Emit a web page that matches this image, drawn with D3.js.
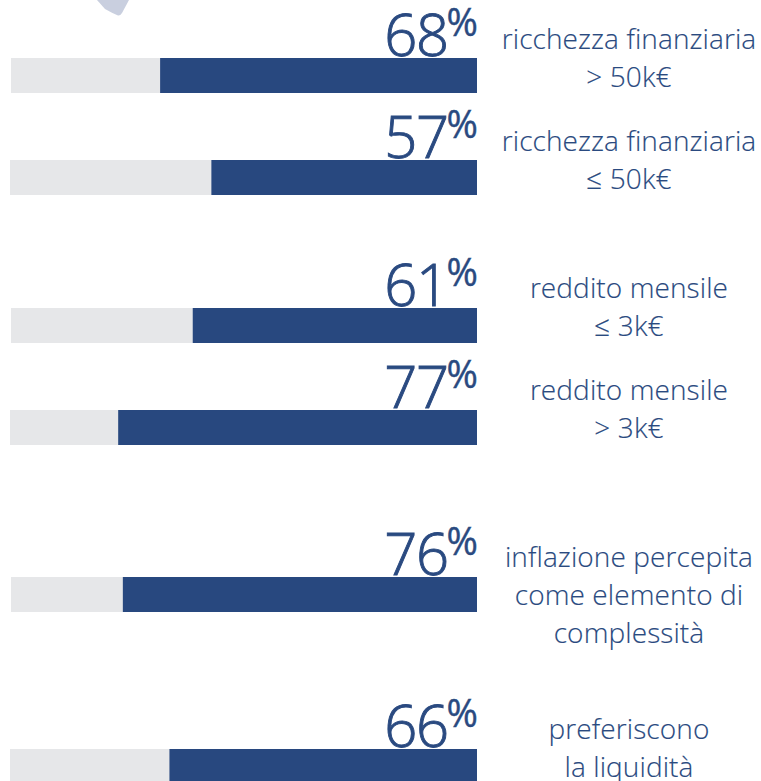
<!DOCTYPE html>
<html><head><meta charset="utf-8">
<script src="https://cdn.jsdelivr.net/npm/d3@7/dist/d3.min.js"></script>
<style>html,body{margin:0;padding:0;background:#fff;overflow:hidden}svg{display:block}
text{font-family:"Open Sans",sans-serif;font-weight:300;fill:#2a4a80}</style></head><body>
<script>
const values=[68,57,61,77,76,66];
const labels=[["ricchezza finanziaria","> 50k€"],["ricchezza finanziaria","≤ 50k€"],["reddito mensile","≤ 3k€"],["reddito mensile","> 3k€"],["inflazione percepita","come elemento di","complessità"],["preferiscono","la liquidità"]];
const barTops=[58,160,308,410,577,749];
const barLefts=[11,10,11,10,11,10];
const W=761,H=781,right=477,barH=35;
const svg=d3.select("body").append("svg").attr("width",W).attr("height",H);
const x=d3.scaleLinear().domain([0,100]).range([right,right-466]);
svg.append("path").attr("d","M97,0L105,9Q112,13 118,15.5Q120,16 122,13L129,0Z").attr("fill","#c9cfdf");
const g=svg.selectAll("g.row").data(values).join("g").attr("class","row");
g.append("rect").attr("x",(d,i)=>barLefts[i]).attr("y",(d,i)=>barTops[i]).attr("width",(d,i)=>right-barLefts[i]).attr("height",barH).attr("fill","#e6e7e9");
g.append("rect").attr("x",d=>x(d)).attr("y",(d,i)=>barTops[i]).attr("width",d=>right-x(d)).attr("height",barH).attr("fill","#28487f");
g.append("text").attr("x",448).attr("y",(d,i)=>barTops[i]-2).attr("text-anchor","end").attr("font-size",58).attr("stroke","#2a4a80").attr("stroke-width",0.9).attr("letter-spacing",-1.2).text(d=>d);
g.append("text").attr("x",478).attr("y",(d,i)=>barTops[i]-22).attr("text-anchor","end").attr("font-size",38).attr("stroke","#2a4a80").attr("stroke-width",0.4).style("font-weight",400).text("%");
const lineGap=38.2;
g.each(function(d,i){
 const base=[49,151,298,400,567,739][i];
 d3.select(this).selectAll("text.lab").data(labels[i]).join("text").attr("class","lab").attr("x",629).attr("y",(t,j)=>base+j*lineGap).attr("text-anchor","middle").attr("font-size",28).attr("letter-spacing",0.1).attr("stroke","#2a4a80").attr("stroke-width",0.15).text(t=>t);
});
</script></body></html>
